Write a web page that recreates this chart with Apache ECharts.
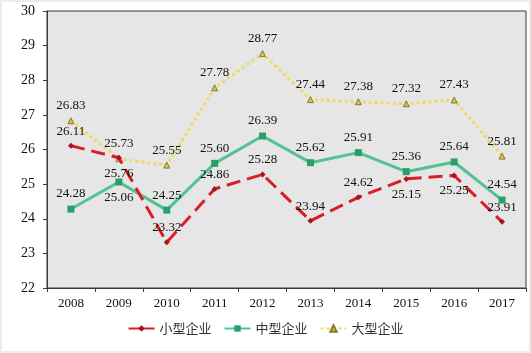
<!DOCTYPE html>
<html>
<head>
<meta charset="utf-8">
<script src="https://cdn.jsdelivr.net/npm/echarts@6/dist/echarts.min.js"></script>
<style>
  html, body { margin: 0; padding: 0; background: #fff; }
  #chart { width: 531px; height: 353px; box-sizing: border-box; border: 2px solid #ececec; }
</style>
</head>
<body>
<div id="chart"></div>
<script>
const years = ['2008', '2009', '2010', '2011', '2012', '2013', '2014', '2015', '2016', '2017']
const small = [26.11, 25.76, 23.32, 24.86, 25.28, 23.94, 24.62, 25.15, 25.25, 23.91]
const medium = [24.28, 25.06, 24.25, 25.60, 26.39, 25.62, 25.91, 25.36, 25.64, 24.54]
const large = [26.83, 25.73, 25.55, 27.78, 28.77, 27.44, 27.38, 27.32, 27.43, 25.81]
const names = ['小型企业', '中型企业', '大型企业']

const labelFont = { fontFamily: 'Liberation Serif', fontSize: 13, color: '#111' }

// which points have their label under the point
const belowIdx = { small: [1, 7, 8], medium: [1], large: [] }

const toData = (arr, key) => arr.map((v, i) => {
  if (belowIdx[key].includes(i)) {
    return { value: v, label: { position: 'bottom', distance: 6 } }
  }
  return v
})

const baseLabel = {
  show: true,
  position: 'top',
  distance: 5,
  ...labelFont,
  formatter: (p) => p.value.toFixed(2)
}

const chart = echarts.init(document.getElementById('chart'))
chart.setOption({
  animation: false,
  grid: {
    left: 45, right: 3, top: 9, bottom: 63,
    show: true,
    backgroundColor: '#e6e6e6',
    borderColor: '#3a3a3a',
    borderWidth: 1
  },
  legend: {
    data: [
      { name: names[0], lineStyle: { type: [100, 0] } },
      { name: names[1] },
      { name: names[2], lineStyle: { type: [3, 3] } }
    ],
    top: 315,
    left: 'center',
    itemWidth: 26,
    itemHeight: 8,
    itemGap: 12,
    textStyle: { fontFamily: 'Noto Sans CJK SC', fontSize: 13, color: '#333' }
  },
  xAxis: {
    type: 'category',
    data: years,
    boundaryGap: true,
    axisLine: { lineStyle: { color: '#3a3a3a', width: 1 } },
    axisTick: { show: true, length: 4, lineStyle: { color: '#3a3a3a' } },
    axisLabel: { ...labelFont, margin: 9 }
  },
  yAxis: {
    type: 'value',
    min: 22,
    max: 30,
    interval: 1,
    splitLine: { show: false },
    axisLine: { show: true, lineStyle: { color: '#3a3a3a', width: 1 } },
    axisTick: { show: true, length: 4, lineStyle: { color: '#3a3a3a' } },
    axisLabel: { ...labelFont, fontSize: 14, margin: 12 }
  },
  series: [
    {
      name: names[0],
      type: 'line',
      data: toData(small, 'small'),
      symbol: 'diamond',
      symbolSize: 6,
      itemStyle: { color: '#a8121b' },
      lineStyle: { color: '#d81e27', width: 3, type: [14, 7] },
      label: baseLabel,
      z: 3
    },
    {
      name: names[1],
      type: 'line',
      data: toData(medium, 'medium'),
      symbol: 'rect',
      symbolSize: 7,
      itemStyle: { color: '#27a06a' },
      lineStyle: { color: '#52c294', width: 3 },
      label: baseLabel,
      z: 2
    },
    {
      name: names[2],
      type: 'line',
      data: toData(large, 'large'),
      symbol: 'triangle',
      symbolSize: 6,
      itemStyle: { color: '#d9c04a', borderColor: '#8c7a2e', borderWidth: 1 },
      lineStyle: { color: '#eedb5e', width: 3, type: [3, 3] },
      label: baseLabel,
      z: 1
    }
  ]
})
</script>
</body>
</html>
